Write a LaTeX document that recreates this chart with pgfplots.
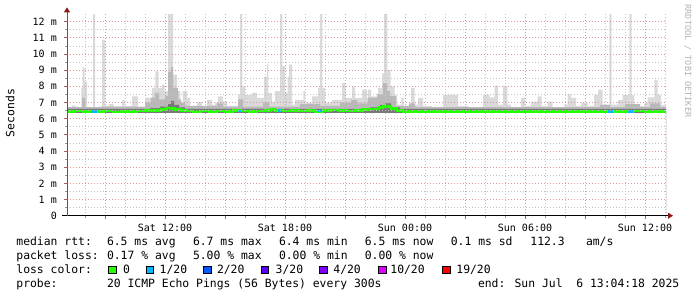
\documentclass[border=0pt]{standalone}
\usepackage{pgfplots}
\pgfplotsset{compat=1.18}
\usetikzlibrary{arrows.meta}
\usepackage{fontspec}
\setmainfont{DejaVu Sans Mono}
\definecolor{smokeA}{RGB}{218,218,218}
\definecolor{smokeB}{RGB}{185,185,185}
\definecolor{smokeC}{RGB}{120,120,120}
\definecolor{loss0}{RGB}{38,255,0}
\definecolor{loss1}{RGB}{0,184,255}
\definecolor{loss2}{RGB}{0,89,255}
\definecolor{loss3}{RGB}{94,0,255}
\definecolor{loss4}{RGB}{126,0,255}
\definecolor{loss10}{RGB}{221,0,255}
\definecolor{loss19}{RGB}{255,0,0}
\definecolor{mgrid}{RGB}{228,150,150}
\definecolor{ngrid}{RGB}{195,195,195}
\definecolor{arrowred}{RGB}{140,25,25}
\newcommand{\legfont}{\fontsize{11.4bp}{13bp}\selectfont}
\newcommand{\tickfont}{\fontsize{10bp}{12bp}\selectfont}
\newcommand{\txt}[3]{\node[anchor=base west,inner sep=0pt,font=\legfont] at (#1bp,-#2bp) {#3};}
\newcommand{\sq}[2]{\filldraw[fill=#2,draw=black,line width=0.8bp] (#1bp,-266.2bp) rectangle ++(7.6bp,-7.6bp);}
\begin{document}
\begin{tikzpicture}
\useasboundingbox (0,0) rectangle (697bp,-297bp);
\begin{axis}[
  at={(67bp,-215.7bp)}, anchor=south west,
  scale only axis, width=599bp, height=201.3bp,
  xmin=7.1, xmax=37.05, ymin=0, ymax=12.45,
  axis x line=bottom, axis y line=left,
  axis on top,
  x axis line style={black, line width=0.9bp, shorten <=-5bp, shorten >=-7bp, -{Triangle[length=5bp,width=6bp,color=arrowred]}},
  y axis line style={black!65, line width=0.9bp, shorten >=-7bp, -{Triangle[length=5bp,width=6bp,color=arrowred]}},
  xtick={9,12,...,36},
  xticklabels={,Sat 12:00,,Sat 18:00,,Sun 00:00,,Sun 06:00,,Sun 12:00},
  minor xtick={8,...,37},
  ytick={0,...,12},
  yticklabels={0,1 m,2 m,3 m,4 m,5 m,6 m,7 m,8 m,9 m,10 m,11 m,12 m},
  minor ytick={0.5,1.5,...,11.5},
  grid=both,
  major grid style={mgrid, line width=0.8bp, dash pattern=on 1bp off 2bp},
  minor grid style={ngrid, line width=0.8bp, dash pattern=on 1bp off 2bp},
  tick align=outside,
  major tick length=3bp, minor tick length=2bp,
  major tick style={arrowred!70, line width=0.8bp},
  minor tick style={black!40, line width=0.8bp},
  tick label style={font=\tickfont, inner sep=0pt},
  xticklabel style={anchor=base, yshift=-12.6bp},
  yticklabel style={anchor=east, xshift=-7bp},
]
% outer smoke envelope (max ping)
\addplot[const plot, fill=smokeA, draw=none] coordinates {
(7.1,6.66) (7.35,6.83) (7.515,6.66) (7.815,7.9) (7.885,9.18) (7.985,8.3) (8.1,6.7)
(8.4,12.6) (8.5,6.7) (8.85,10.88) (9.015,6.8) (9.185,6.9) (9.435,6.75) (9.85,7.17)
(9.985,6.77) (10.35,7.38) (10.65,6.7) (11.015,7.3) (11.35,7.9) (11.515,8.93) (11.685,7.9)
(11.85,8.1) (11.985,7.7) (12.15,12.6) (12.4,8.72) (12.6,7.7) (12.765,6.87) (12.885,7.7)
(13.1,7.28) (13.265,6.77) (13.6,7.03) (13.85,6.77) (14.1,7.17) (14.35,6.85) (14.5,7.0)
(14.65,7.38) (14.9,7.05) (15.1,6.77) (15.65,7.5) (15.75,12.6) (15.865,8.0) (16.0,7.45)
(16.35,7.6) (16.6,7.28) (16.95,8.6) (17.1,9.4) (17.165,7.6) (17.35,7.05) (17.5,7.7)
(17.75,12.6) (17.865,9.25) (18.0,7.6) (18.135,8.6) (18.2,9.35) (18.35,6.87) (18.5,7.17)
(18.915,7.7) (19.0,7.0) (19.35,7.38) (19.65,7.9) (19.75,12.6) (19.865,7.9) (20.0,7.0)
(20.35,7.17) (20.85,8.2) (21.035,7.28) (21.35,8.0) (21.5,7.28) (21.85,7.8) (22.1,7.28)
(22.15,7.8) (22.3,7.38) (22.65,7.9) (22.85,8.8) (22.95,12.6) (23.115,9.0) (23.285,8.0)
(23.485,7.45) (23.6,6.87) (23.815,7.28) (23.935,6.8) (24.3,7.9) (24.485,6.87) (24.65,7.28)
(24.9,6.77) (25.35,6.66) (25.9,7.48) (26.485,7.45) (26.65,6.77) (27.15,6.66) (27.9,7.45)
(28.235,7.32) (28.485,8.05) (28.65,6.87) (28.9,8.05) (29.115,6.87) (29.3,6.66) (29.8,7.28)
(30.0,6.77) (30.3,7.05) (30.635,7.38) (30.835,6.77) (31.135,7.05) (31.385,6.7) (31.965,6.87)
(32.135,7.5) (32.3,7.28) (32.55,6.77) (32.8,7.0) (33.135,6.77) (33.45,7.48) (33.65,7.8)
(33.885,6.87) (34.215,12.6) (34.335,6.87) (34.635,7.17) (34.885,7.45) (35.215,12.6)
(35.335,7.45) (35.465,6.77) (35.965,7.0) (36.135,7.32) (36.465,8.4) (36.635,7.45)
(36.8,6.85) (37.05,6.85)
} \closedcycle;
% middle smoke
\addplot[const plot, fill=smokeB, draw=none] coordinates {
(7.1,6.72) (7.85,7.3) (8.0,6.72) (8.75,6.75) (11.0,7.0) (11.3,7.3) (11.5,7.6) (11.7,7.2)
(12.0,7.4) (12.15,8.9) (12.3,9.2) (12.4,7.9) (12.65,7.2) (12.8,7.0) (13.0,6.8)
(14.6,6.95) (14.9,6.75) (15.65,7.2) (15.9,6.75) (16.9,7.0) (17.2,6.75) (18.75,6.9)
(19.75,6.8) (20.75,7.0) (21.3,7.15) (21.6,6.95) (22.15,7.3) (22.6,7.5) (22.9,8.2)
(23.1,7.7) (23.25,7.4) (23.55,6.8) (24.2,6.95) (24.5,6.72) (33.75,6.85) (34.25,6.72)
(35.0,6.9) (35.75,6.72) (36.25,6.95) (36.75,6.72) (37.05,6.72)
} \closedcycle;
% inner smoke
\addplot[const plot, fill=smokeC, draw=none] coordinates {
(7.1,6.6) (11.25,6.66) (11.75,6.75) (12.15,6.9) (12.3,7.1) (12.45,6.85) (12.7,6.7)
(13.0,6.6) (22.25,6.7) (22.75,6.85) (23.0,6.95) (23.3,6.7) (23.75,6.6) (37.05,6.6)
} \closedcycle;
% below the lowest ping
\addplot[fill=white, draw=none] coordinates {(7.1,6.38) (37.05,6.38)} \closedcycle;
% median rtt, 0 loss
\addplot[const plot, loss0, line width=2.6bp] coordinates {
(7.1,6.45) (7.5,6.47) (7.9,6.44) (8.3,6.46) (8.6,6.43) (9.0,6.47) (9.4,6.42) (9.8,6.45)
(10.2,6.43) (10.6,6.47) (11.0,6.49) (11.4,6.52) (11.8,6.55) (12.1,6.66) (12.3,6.62)
(12.5,6.58) (12.8,6.52) (13.1,6.47) (13.4,6.42) (13.8,6.48) (14.2,6.44) (14.6,6.47)
(15.0,6.45) (15.4,6.50) (15.8,6.47) (16.2,6.44) (16.6,6.48) (17.0,6.52) (17.3,6.58)
(17.5,6.50) (17.9,6.47) (18.3,6.50) (18.7,6.47) (19.1,6.49) (19.5,6.46) (19.9,6.50)
(20.3,6.53) (20.7,6.50) (21.1,6.48) (21.5,6.52) (21.9,6.55) (22.3,6.60) (22.7,6.68)
(22.9,6.75) (23.3,6.62) (23.6,6.52) (23.9,6.46) (24.2,6.43) (24.6,6.44) (25.0,6.43)
(25.8,6.44) (26.6,6.43) (27.4,6.44) (28.2,6.43) (29.0,6.44) (29.8,6.43) (30.6,6.45)
(31.4,6.43) (32.2,6.46) (33.0,6.44) (33.8,6.46) (34.6,6.44) (35.4,6.47) (36.0,6.45)
(36.6,6.44) (37.05,6.44)
};
% median rtt, 1/20 loss
\addplot[loss1, line width=2.6bp] coordinates {(8.3,6.45) (8.6,6.45)};
\addplot[loss1, line width=2.6bp] coordinates {(15.65,6.47) (15.85,6.47)};
\addplot[loss1, line width=2.6bp] coordinates {(17.65,6.49) (17.85,6.49)};
\addplot[loss1, line width=2.6bp] coordinates {(19.65,6.47) (19.85,6.47)};
\addplot[loss1, line width=2.6bp] coordinates {(34.15,6.44) (34.4,6.44)};
\addplot[loss1, line width=2.6bp] coordinates {(35.15,6.46) (35.4,6.46)};
\end{axis}
% axis title and watermark
\node[rotate=90, font=\legfont, inner sep=0pt] at (10bp,-113bp) {Seconds};
\node[rotate=-90, font=\fontsize{8.5bp}{10bp}\selectfont, text=black!30, inner sep=0pt] at (688bp,-61bp) {RRDTOOL / TOBI OETIKER};
% legend
\txt{16.2}{245.7}{median rtt:}
\txt{106.8}{245.7}{6.5 ms avg}
\txt{192.8}{245.7}{6.7 ms max}
\txt{278.8}{245.7}{6.4 ms min}
\txt{364.6}{245.7}{6.5 ms now}
\txt{450.6}{245.7}{0.1 ms sd}
\txt{530.2}{245.7}{112.3}
\txt{585.8}{245.7}{am/s}
\txt{16.2}{259.5}{packet loss:}
\txt{106.8}{259.5}{0.17 \% avg}
\txt{192.8}{259.5}{5.00 \% max}
\txt{278.8}{259.5}{0.00 \% min}
\txt{364.6}{259.5}{0.00 \% now}
\txt{16.2}{273.3}{loss color:}
\sq{108.3}{loss0}\txt{122.8}{273.3}{0}
\sq{146.0}{loss1}\txt{159.5}{273.3}{1/20}
\sq{203.3}{loss2}\txt{216.8}{273.3}{2/20}
\sq{261.0}{loss3}\txt{275.5}{273.3}{3/20}
\sq{319.3}{loss4}\txt{333.2}{273.3}{4/20}
\sq{378.3}{loss10}\txt{390.2}{273.3}{10/20}
\sq{442.3}{loss19}\txt{456.2}{273.3}{19/20}
\txt{16.2}{287.2}{probe:}
\txt{106.8}{287.2}{20 ICMP Echo Pings (56 Bytes) every 300s}
\txt{477.8}{287.2}{end: Sun Jul~~6 13:04:18 2025}
\end{tikzpicture}
\end{document}
